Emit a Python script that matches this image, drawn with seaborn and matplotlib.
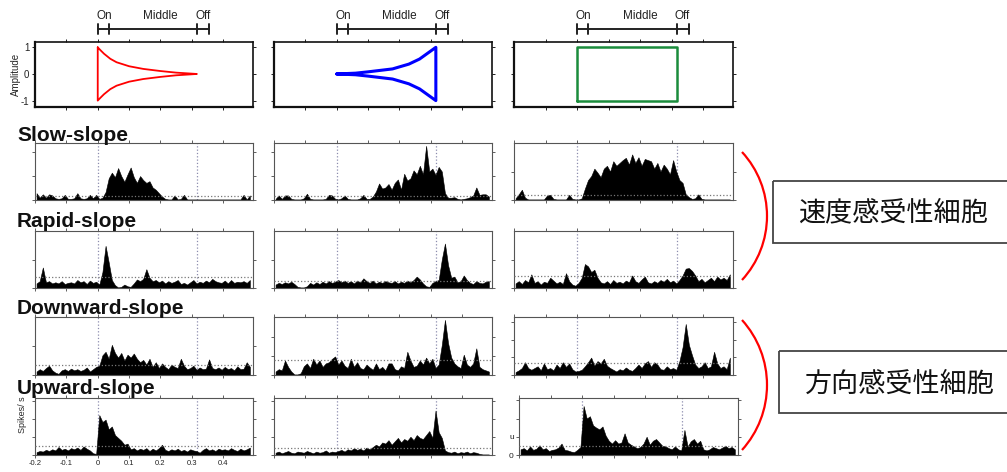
import numpy as np
import pandas as pd
import matplotlib
matplotlib.use("Agg")
import matplotlib.pyplot as plt
from matplotlib.patches import Arc, Rectangle
import matplotlib.transforms as mtransforms
import seaborn as sns

# ---------------- data ----------------
# PSTH: 10 ms bins starting at -0.2 s (69 bins), values in % of panel height
bin_start = -0.2
bin_width = 0.01
n_bins = 69

# Stimulus envelopes
decay_t = [0, 0.008, 0.02, 0.04, 0.06, 0.10, 0.145, 0.20, 0.25, 0.29, 0.316]
decay_amp = [1.0, 0.90, 0.76, 0.57, 0.44, 0.29, 0.19, 0.11, 0.05, 0.02, 0.0]
ramp_t = [0, 0.06, 0.10, 0.178, 0.23, 0.264, 0.29, 0.316]
ramp_amp = [0, 0.03, 0.08, 0.19, 0.37, 0.56, 0.78, 1.0]
step_t = [0, 0.316]
step_amp = [1.0, 1.0]

row_titles = ["Slow-slope", "Rapid-slope", "Downward-slope", "Upward-slope"]
bracket_labels = ["On", "Middle", "Off"]
group_labels = ["速度感受性細胞", "方向感受性細胞"]
xtick_vals = [-0.2, -0.1, 0, 0.1, 0.2, 0.3, 0.4]
xtick_labels = ["-0.2", "-0.1", "0", "0.1", "0.2", "0.3", "0.4"]

slow_decay = [12, 4, 10, 4, 10, 8, 3, 2, 3, 9,
              2, 2, 3, 12, 3, 2, 3, 9, 3, 9,
              2, 4, 14, 38, 48, 40, 56, 42, 32, 45,
              57, 40, 30, 42, 35, 30, 33, 22, 18, 12,
              6, 2, 1, 1, 8, 1, 2, 9, 1, 1,
              1, 1, 1, 1, 1, 1, 1, 1, 1, 1,
              1, 1, 1, 1, 1, 1, 9, 1, 8]
slow_ramp = [2, 8, 2, 8, 8, 2, 1, 1, 1, 3,
             11, 2, 1, 1, 1, 1, 2, 9, 8, 2,
             1, 3, 8, 2, 1, 1, 1, 3, 9, 2,
             2, 6, 15, 29, 20, 22, 28, 18, 30, 36,
             18, 46, 34, 38, 52, 45, 60, 45, 95, 50,
             55, 44, 58, 50, 12, 4, 4, 5, 2, 1,
             2, 3, 5, 8, 22, 9, 10, 10, 6]
slow_step = [3, 10, 18, 4, 1, 1, 1, 1, 1, 1,
             8, 9, 2, 1, 1, 1, 1, 9, 2, 1,
             1, 3, 20, 35, 42, 55, 48, 40, 55, 60,
             50, 68, 60, 65, 70, 74, 62, 80, 65, 75,
             60, 72, 70, 68, 55, 65, 50, 62, 55, 45,
             70, 50, 35, 30, 10, 5, 2, 3, 10, 2,
             1, 1, 1, 1, 1, 1, 1, 1, 1]
rapid_decay = [8, 12, 36, 10, 12, 8, 10, 8, 12, 7,
               9, 10, 8, 14, 10, 12, 7, 13, 9, 11,
               6, 28, 74, 45, 14, 5, 1, 2, 6, 3,
               2, 8, 15, 12, 16, 33, 18, 12, 14, 10,
               13, 8, 12, 9, 11, 14, 7, 9, 6, 10,
               14, 8, 11, 9, 13, 10, 16, 12, 10, 9,
               13, 8, 14, 9, 11, 10, 12, 9, 14]
rapid_ramp = [6, 9, 7, 10, 8, 11, 7, 2, 1, 1,
              3, 9, 6, 10, 7, 11, 8, 12, 9, 11,
              14, 10, 13, 9, 12, 8, 13, 10, 17, 12,
              9, 13, 8, 11, 9, 12, 10, 9, 12, 8,
              11, 9, 13, 10, 14, 20, 15, 8, 3, 2,
              9, 12, 14, 50, 78, 40, 18, 20, 10, 12,
              22, 14, 9, 7, 12, 9, 8, 11, 12]
rapid_step = [8, 12, 7, 14, 10, 24, 9, 12, 6, 11,
              9, 18, 13, 8, 11, 7, 26, 12, 6, 4,
              9, 18, 42, 38, 28, 32, 18, 10, 8, 12,
              7, 14, 9, 11, 8, 13, 10, 22, 12, 9,
              15, 20, 10, 8, 12, 9, 14, 11, 16, 10,
              13, 8, 14, 22, 34, 35, 30, 22, 12, 16,
              10, 14, 18, 12, 20, 15, 18, 14, 24]
down_decay = [6, 10, 7, 12, 16, 8, 4, 2, 8, 10,
              7, 11, 8, 10, 7, 9, 13, 6, 10, 14,
              16, 34, 40, 28, 52, 38, 30, 38, 25, 35,
              30, 37, 28, 22, 26, 18, 28, 14, 22, 12,
              20, 14, 10, 18, 14, 12, 28, 16, 10, 12,
              16, 9, 13, 10, 11, 27, 12, 10, 13, 9,
              14, 10, 12, 8, 15, 10, 11, 22, 14]
down_ramp = [6, 10, 8, 25, 14, 6, 1, 1, 3, 15,
             20, 12, 28, 18, 25, 14, 20, 22, 28, 32,
             18, 25, 16, 12, 28, 14, 22, 12, 10, 18,
             13, 9, 20, 10, 14, 8, 20, 20, 10, 8,
             15, 12, 40, 25, 14, 16, 25, 18, 30, 20,
             28, 12, 18, 52, 95, 55, 30, 20, 15, 12,
             35, 18, 14, 20, 46, 14, 10, 8, 6]
down_step = [5, 8, 12, 22, 12, 9, 12, 15, 8, 20,
             10, 12, 8, 18, 12, 22, 14, 20, 10, 6,
             7, 9, 15, 22, 30, 16, 24, 20, 28, 16,
             12, 9, 6, 10, 8, 13, 9, 7, 12, 18,
             12, 20, 24, 14, 22, 18, 10, 9, 15, 10,
             12, 9, 24, 48, 88, 52, 34, 18, 12, 15,
             22, 12, 15, 40, 20, 12, 15, 10, 30]
up_decay = [5, 7, 6, 9, 7, 10, 8, 14, 9, 11,
            8, 12, 10, 13, 9, 15, 11, 8, 3, 2,
            70, 58, 62, 45, 50, 35, 30, 25, 18, 20,
            10, 12, 8, 11, 9, 12, 7, 11, 8, 12,
            18, 9, 7, 10, 8, 11, 7, 9, 6, 10,
            8, 7, 4, 9, 12, 8, 10, 7, 11, 9,
            10, 8, 12, 9, 7, 11, 8, 10, 13]
up_ramp = [4, 6, 3, 5, 7, 4, 3, 6, 5, 4,
           7, 5, 3, 6, 4, 5, 8, 4, 6, 5,
           7, 9, 6, 10, 8, 12, 9, 11, 8, 13,
           10, 14, 18, 15, 22, 20, 26, 18, 24, 30,
           22, 28, 25, 32, 26, 35, 30, 28, 35, 42,
           30, 78, 40, 30, 8, 5, 4, 6, 3, 5,
           4, 6, 3, 5, 4, 2, 1, 1, 1]
up_step = [10, 12, 8, 15, 9, 11, 17, 10, 12, 7,
           9, 10, 13, 20, 9, 8, 6, 5, 9, 14,
           86, 64, 68, 52, 48, 45, 50, 34, 25, 20,
           26, 20, 22, 38, 22, 18, 15, 12, 14, 20,
           32, 18, 25, 28, 22, 16, 15, 12, 10, 15,
           10, 8, 44, 15, 24, 28, 20, 25, 10, 8,
           10, 14, 12, 10, 13, 16, 12, 14, 10]

psth_rows = [[slow_decay, slow_ramp, slow_step],
             [rapid_decay, rapid_ramp, rapid_step],
             [down_decay, down_ramp, down_step],
             [up_decay, up_ramp, up_step]]
baselines = [[7.6, 7.6, 8.7],
             [19, 13, 20.6],
             [17, 25.6, 20.6],
             [16, 12, 15.6]]
yticks_rows = [[[0, 42, 84], [0, 42, 84], [0, 50]],
               [[0, 50], [0, 50], [0, 50]],
               [[0, 50], [0, 32, 66], [0, 31, 61, 91]],
               [[0, 32, 63, 95], [0, 32, 63, 95], [0, 32, 64, 96]]]

# ---------------- style ----------------
sns.set_style("ticks")
plt.rcParams["font.family"] = ["Liberation Sans", "DejaVu Sans"]
plt.rcParams["axes.unicode_minus"] = False

W, H = 1007, 472
fig = plt.figure(figsize=(W / 100, H / 100), dpi=100)


def px_axes(l, t, r, b):
    return fig.add_axes([l / W, 1 - b / H, (r - l) / W, (b - t) / H])


col_lr = [(35, 253), (274, 492), (514, 733)]
stim_tb = (42, 107)
rows_tb = [(143, 200), (231, 288), (317, 375), (398, 455)]
title_base = [141, 227, 314, 394]
xlim = (-0.2, 0.495)
on_line, off_line = 0.0, 0.316
edges = [bin_start + bin_width * i for i in range(n_bins + 1)]
centers = [bin_start + bin_width * (i + 0.5) for i in range(n_bins)]

# ---------------- stimulus panels ----------------
stim_specs = [("#ff0000", 1.3), ("#0000ff", 2.2), ("#1a8c3c", 1.8)]
for c in range(3):
    l, r = col_lr[c]
    ax = px_axes(l, stim_tb[0], r, stim_tb[1])
    color, lw = stim_specs[c]
    if c == 0:
        xs = decay_t + decay_t[::-1] + [decay_t[0]]
        ys = decay_amp + [-v for v in decay_amp[::-1]] + [decay_amp[0]]
    elif c == 1:
        xs = ramp_t + ramp_t[::-1]
        ys = ramp_amp + [-v for v in ramp_amp[::-1]]
    else:
        xs = [step_t[0], step_t[0], step_t[1], step_t[1], step_t[0]]
        ys = [-step_amp[0], step_amp[0], step_amp[1], -step_amp[1], -step_amp[0]]
    df = pd.DataFrame({"t": xs, "a": ys})
    sns.lineplot(data=df, x="t", y="a", sort=False, estimator=None,
                 color=color, linewidth=lw, ax=ax)
    ax.set_xlim(*xlim)
    ax.set_ylim(-1.24, 1.2)
    ax.set_xticks([-0.1, 0, 0.1, 0.2, 0.3, 0.4])
    ax.set_xticklabels([])
    ax.set_yticks([-1, 0, 1])
    ax.set_xlabel("")
    ax.set_ylabel("")
    if c == 0:
        ax.set_yticklabels(["-1", "0", "1"], fontsize=7)
        ax.set_ylabel("Amplitude", fontsize=7)
        ax.yaxis.set_label_coords(-0.065, 0.5)
    else:
        ax.set_yticklabels([])
    ax.tick_params(axis="both", which="both", direction="out", length=2.5,
                   width=0.7, top=True, right=True, pad=1.5, colors="#222222")
    for s in ax.spines.values():
        s.set_visible(True)
        s.set_color("#111111")
        s.set_linewidth(1.2)
    ax.spines["bottom"].set_linewidth(1.6)
    ax.spines["left"].set_linewidth(1.6)
    # On / Middle / Off bracket
    tr = mtransforms.blended_transform_factory(ax.transData, ax.transAxes)
    ax.plot([0, 0.354], [1.2, 1.2], transform=tr, clip_on=False,
            color="#222222", lw=1.4)
    for xb in [0, 0.036, 0.316, 0.354]:
        ax.plot([xb, xb], [1.13, 1.27], transform=tr, clip_on=False,
                color="#222222", lw=1.4)
    for lab, xb in zip(bracket_labels, [0.02, 0.2, 0.335]):
        ax.text(xb, 1.31, lab, transform=tr, ha="center", va="bottom",
                fontsize=8.5, color="#222222")

# ---------------- PSTH panels ----------------
for r_i, (t, b) in enumerate(rows_tb):
    fig.text(17 / W, 1 - title_base[r_i] / H, row_titles[r_i],
             fontsize=15, fontweight="bold", ha="left", va="baseline",
             color="#111111")
    for c in range(3):
        l, r = col_lr[c]
        if r_i == 3 and c == 2:
            l, r = l + 5, r + 5
        ax = px_axes(l, t, r, b)
        vals = psth_rows[r_i][c]
        df = pd.DataFrame({"t": centers, "rate": vals})
        sns.histplot(data=df, x="t", weights="rate", bins=edges,
                     element="poly", fill=True, color="black", alpha=1,
                     linewidth=0.4, edgecolor="black", ax=ax)
        ax.axvline(on_line, color="#8c8cae", ls=":", lw=0.9, zorder=0)
        ax.axvline(off_line, color="#8c8cae", ls=":", lw=0.9, zorder=0)
        ax.axhline(baselines[r_i][c], color="#777777", ls=":", lw=0.9, zorder=3)
        ax.set_xlim(*xlim)
        ax.set_ylim(0, 100)
        ax.set_xticks(xtick_vals)
        ax.set_yticks(yticks_rows[r_i][c])
        ax.set_xlabel("")
        ax.set_ylabel("")
        if r_i == 3 and c == 0:
            ax.set_xticklabels(xtick_labels, fontsize=5.5)
            ax.set_ylabel("Spikes/ s", fontsize=6.5)
            ax.yaxis.set_label_coords(-0.035, 0.7)
        else:
            ax.set_xticklabels([])
        if r_i == 3 and c == 2:
            ylabs = ["0", "u"] + [""] * (len(yticks_rows[r_i][c]) - 2)
            ax.set_yticklabels(ylabs, fontsize=6)
        else:
            ax.set_yticklabels([])
        ax.tick_params(axis="both", direction="out", length=2.2, width=0.6,
                       top=True, right=True, pad=1.5, colors="#444444",
                       labelcolor="#222222")
        for s in ax.spines.values():
            s.set_visible(True)
            s.set_color("#555555")
            s.set_linewidth(0.8)

# ---------------- right-hand annotations ----------------
ov = fig.add_axes([0, 0, 1, 1])
ov.set_xlim(0, W)
ov.set_ylim(H, 0)
ov.axis("off")
for (y0, y1) in [(152, 280), (320, 450)]:
    half = (y1 - y0) / 2
    sag = 25
    R = (half ** 2 + sag ** 2) / (2 * sag)
    cx = 742 + sag - R
    cy = (y0 + y1) / 2
    ang = np.degrees(np.arcsin(half / R))
    ov.add_patch(Arc((cx, cy), 2 * R, 2 * R, theta1=-ang, theta2=ang,
                     color="#ff0000", lw=1.6))
for (bx, by0, by1, tx, ty, lab) in [(773, 181, 243, 893, 213, group_labels[0]),
                                     (779, 351, 413, 900, 384, group_labels[1])]:
    ov.add_patch(Rectangle((bx, by0), 1015 - bx, by1 - by0, fill=False,
                           edgecolor="#444444", lw=1.3))
    ov.text(tx, ty, lab, ha="center", va="center", fontsize=19.5,
            family=["Noto Sans CJK JP", "DejaVu Sans"], color="#111111")

fig.savefig("out.png", dpi=100)
